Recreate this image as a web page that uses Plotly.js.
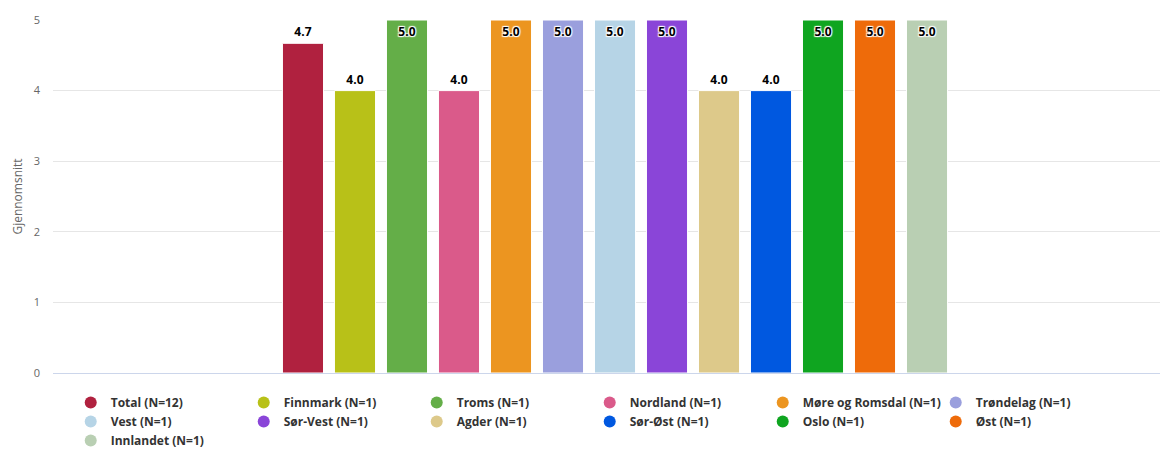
<!DOCTYPE html>
<html><head><meta charset="utf-8">
<script src="https://cdn.plot.ly/plotly-3.0.1.min.js"></script>
<style>html,body{margin:0;padding:0;background:#fff}#chart{width:1163px;height:450px}</style>
</head><body><div id="chart"></div>
<script>
const seriesNames = ["Total (N=12)","Finnmark (N=1)","Troms (N=1)","Nordland (N=1)","Møre og Romsdal (N=1)","Trøndelag (N=1)","Vest (N=1)","Sør-Vest (N=1)","Agder (N=1)","Sør-Øst (N=1)","Oslo (N=1)","Øst (N=1)","Innlandet (N=1)"];
const seriesValues = [4.67,4.0,5.0,4.0,5.0,5.0,5.0,5.0,4.0,4.0,5.0,5.0,5.0];
const seriesColors = ["#B0213F","#B8C118","#64AE48","#DA5A8A","#EC9520","#9A9FDD","#B6D4E6","#8A45D8","#DDC98A","#0058E0","#0FA520","#EE6B0A","#B9CFB3"];
const yTicks = [0,1,2,3,4,5];

const FONT = "'Open Sans', 'DejaVu Sans', sans-serif";
const traces = [];
seriesNames.forEach((n,i)=>{
  const v = seriesValues[i];
  const full = v >= 5;
  traces.push({
    type:'bar', x:[0], y:[v], name:n, showlegend:false,
    marker:{color:seriesColors[i], line:{width:1,color:'#ffffff'}},
    text:[v.toFixed(1)], textposition: full ? 'inside' : 'outside',
    insidetextanchor:'end', constraintext:'none',
    textfont:{family:FONT, size:12, color:'#000', weight:'bold', shadow: full ? '1px 1px 1px #fff, -1px -1px 1px #fff, 1px -1px 1px #fff, -1px 1px 1px #fff' : 'none'},
    cliponaxis:false, hoverinfo:'none'
  });
});
seriesNames.forEach((n,i)=>{
  traces.push({
    type:'scatter', mode:'markers', x:[null], y:[null], name:n, showlegend:true,
    marker:{color:seriesColors[i], size:12, symbol:'circle'}, hoverinfo:'none'
  });
});

const layout = {
  width:1163, height:450,
  margin:{l:53, r:3, t:20, b:77},
  paper_bgcolor:'#fff', plot_bgcolor:'#fff',
  barmode:'group', bargap:0.4, bargroupgap:0.21,
  font:{family:FONT, color:'#333'},
  xaxis:{type:'linear', range:[-0.4988,0.4837], showticklabels:false, showgrid:false, zeroline:false,
         showline:true, linecolor:'#ccd6eb', linewidth:1, ticks:'', fixedrange:true},
  yaxis:{range:[0,5], tickvals:yTicks, ticktext:yTicks.map(String), showgrid:true, gridcolor:'#e6e6e6',
         zeroline:false, showline:false, ticks:'', ticklabelstandoff:12,
         tickfont:{size:11, color:'#666', family:FONT},
         title:{text:'Gjennomsnitt', font:{size:12, color:'#666', family:FONT}, standoff:8}},
  showlegend:true,
  legend:{orientation:'h', x:0.016, xanchor:'left', xref:'paper', yref:'container', y:0.1378, yanchor:'top', traceorder:'normal',
          entrywidth:128, entrywidthmode:'pixels', itemwidth:30, tracegroupgap:0,
          font:{size:12, color:'#333', family:FONT, weight:'bold'}, bgcolor:'rgba(0,0,0,0)'}
};
Plotly.newPlot('chart', traces, layout, {displayModeBar:false, staticPlot:true});
</script></body></html>
